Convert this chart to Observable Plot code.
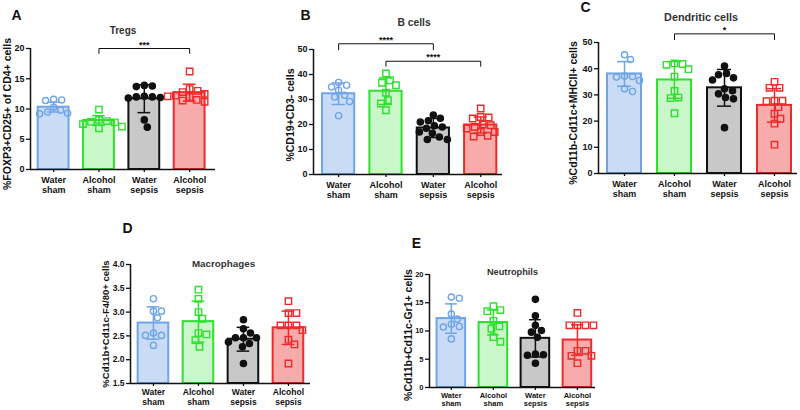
<!DOCTYPE html>
<html><head><meta charset="utf-8">
<script src="https://cdn.jsdelivr.net/npm/d3@7"></script>
<script src="https://cdn.jsdelivr.net/npm/@observablehq/plot@0.6"></script>
<style>
body{margin:0;background:#fff;}
#fig{position:relative;width:800px;height:410px;overflow:hidden;font-family:"Liberation Sans",Arial,sans-serif;}
#fig svg{position:absolute;max-width:none;}
</style></head><body><div id="fig"></div>
<script>
// ---------- data ----------
const groups = ["Water\nsham", "Alcohol\nsham", "Water\nsepsis", "Alcohol\nsepsis"];

const tregsMean = [10.3, 8.1, 11.7, 12.7];
const tregsSD = [0.8, 0.8, 2.3, 1.4];
const tregsPts = [
  [11.6, 11.4, 11.5, 10.3, 9.8, 9.5, 9.2, 9.3],
  [9.9, 8.2, 8.0, 7.9, 7.8, 7.5, 7.1, 6.8],
  [13.9, 13.7, 13.8, 12.0, 11.9, 12.0, 11.8, 12.1, 8.2, 7.0],
  [16.2, 13.3, 13.0, 12.8, 12.5, 12.2, 12.0, 12.1, 11.4, 11.2, 11.5]
];
const tregsTicks = [0, 5, 10, 15, 20];

const bMean = [32.3, 33.3, 18.6, 19.8];
const bSD = [4.3, 5.3, 3.8, 3.2];
const bPts = [
  [36.8, 35.7, 35.0, 33.7, 31.7, 31.0, 29.2, 23.5],
  [40.4, 37.7, 36.7, 35.7, 32.7, 29.7, 28.4, 25.7],
  [23.8, 22.5, 21.5, 21.0, 19.5, 19.0, 17.0, 16.5, 15.0, 14.0, 14.0, 18.5],
  [26.4, 23.0, 22.8, 22.4, 20.0, 19.7, 19.0, 18.4, 17.0, 17.0, 15.5, 15.2]
];
const bTicks = [0, 10, 20, 30, 40, 50];

const dcMean = [38.0, 35.7, 32.7, 26.0];
const dcSD = [4.7, 7.0, 7.0, 6.4];
const dcPts = [
  [45.3, 43.5, 37.0, 36.8, 37.2, 35.5, 32.3, 31.3],
  [42.0, 41.8, 41.5, 39.8, 37.0, 31.5, 29.0, 28.8, 23.0],
  [41.0, 38.2, 37.7, 36.5, 35.7, 32.3, 31.6, 30.4, 29.0, 28.5, 17.5],
  [35.0, 32.7, 32.7, 27.8, 27.8, 27.6, 25.3, 22.8, 20.9, 19.0, 11.0]
];
const dcTicks = [0, 10, 20, 30, 40, 50];

const macMean = [2.77, 2.80, 2.43, 2.67];
const macSD = [0.34, 0.43, 0.25, 0.35];
const macPts = [
  [3.28, 3.02, 3.02, 2.88, 2.51, 2.51, 2.56, 2.30],
  [3.47, 3.28, 3.00, 2.86, 2.56, 2.53, 2.41, 2.27],
  [2.84, 2.65, 2.56, 2.46, 2.46, 2.46, 2.37, 2.34, 2.27, 1.92],
  [3.23, 2.98, 2.98, 2.72, 2.72, 2.72, 2.62, 2.42, 2.32, 1.92]
];
const macTicks = [1.5, 2.0, 2.5, 3.0, 3.5, 4.0];

const neuMean = [12.2, 11.5, 8.7, 8.4];
const neuSD = [2.6, 2.2, 3.3, 2.7];
const neuPts = [
  [16.0, 15.8, 13.0, 12.1, 11.2, 10.8, 10.7, 8.6],
  [14.4, 13.7, 13.5, 11.8, 10.8, 10.4, 8.9, 8.1],
  [15.6, 12.7, 11.0, 10.1, 9.8, 8.9, 5.9, 5.7, 5.8, 4.3],
  [13.2, 11.0, 11.0, 11.0, 11.0, 6.5, 6.5, 5.6, 5.6, 4.3]
];
const neuTicks = [0, 5, 10, 15, 20];

// significance brackets: groups a-b, bar height, tip height, label
const tregsBrackets = [{a: 1, b: 3, y: 20, tip: 19.2, label: "***"}];
const bBrackets = [
  {a: 0, b: 2, y: 52.3, tip: 49.9, label: "****"},
  {a: 1, b: 3, y: 45.3, tip: 43.3, label: "****"}
];
const dcBrackets = [{a: 1, b: 3, y: 53.3, tip: 51.1, label: "*"}];

// ---------- styles ----------
const barFill = ["#c9dbf5", "#c9f7c9", "#c8c8c8", "#f7abab"];
const barStroke = ["#6fa5e6", "#2fe02f", "#111111", "#ee2a2a"];
const dotSymbol = ["circle", "square", "circle", "square"];
const dotFill = ["none", "none", "#111111", "none"];
const FONT = "'Liberation Sans', Arial, sans-serif";

const panels = [
  {letter: "A", title: "Tregs", ylabel: "%FOXP3+CD25+ of CD4+ cells", mean: tregsMean, sd: tregsSD, pts: tregsPts, ticks: tregsTicks, fmt: d3.format("d"), brackets: tregsBrackets,
   L: {left: 0, top: 0, width: 230, height: 200, ml: 30, mr: 15, mt: 48, mb: 31, xd: [-0.51, 3.57], letter: [-14, -33], title: [0, -18], ylab: [-23, 5], ls: 10.5, ts: 10, ks: 9, tp: 3}},
  {letter: "B", title: "B cells", ylabel: "%CD19+CD3- cells", mean: bMean, sd: bSD, pts: bPts, ticks: bTicks, fmt: d3.format("d"), brackets: bBrackets,
   L: {left: 265, top: 0, width: 245, height: 200, ml: 48, mr: 8, mt: 49, mb: 26, xd: [-0.53, 3.46], letter: [-8, -34], title: [6, -27], ylab: [-23, 3], ls: 10.5, ts: 10.3, ks: 9, tp: 3}},
  {letter: "C", title: "Dendritic cells", ylabel: "%Cd11b-Cd11c+MHCII+ cells", mean: dcMean, sd: dcSD, pts: dcPts, ticks: dcTicks, fmt: d3.format("d"), brackets: dcBrackets,
   L: {left: 530, top: 0, width: 270, height: 200, ml: 68, mr: 3, mt: 42, mb: 27, xd: [-0.52, 3.46], letter: [-13, -35], title: [3, -25], ylab: [-25, 5], ls: 10.5, ts: 10.8, ks: 9, tp: 3}},
  {letter: "D", title: "Macrophages", ylabel: "%Cd11b+Cd11c-F4/80+ cells", mean: macMean, sd: macSD, pts: macPts, ticks: macTicks, fmt: d3.format(".1f"), brackets: [],
   L: {left: 60, top: 200, width: 260, height: 210, ml: 70, mr: 10, mt: 64, mb: 27, xd: [-0.51, 3.49], letter: [-3, -36], title: [3, -1], ylab: [-25, 0], ls: 9.5, ts: 9.8, ks: 8.5, tp: 2}},
  {letter: "E", title: "Neutrophils", ylabel: "%Cd11b+Cd11c-Gr1+ cells", mean: neuMean, sd: neuSD, pts: neuPts, ticks: neuTicks, fmt: d3.format("d"), brackets: [],
   L: {left: 395, top: 200, width: 210, height: 210, ml: 34, mr: 10, mt: 74, mb: 23, xd: [-0.52, 3.43], letter: [-13, -31], title: [0, -2], ylab: [-21, 4], ls: 10.5, ts: 9.2, ks: 7.5, tp: 1}}
];

// simple beeswarm: horizontal pixel offsets so dots don't overlap
function swarm(vals, pxPerY, diam) {
  const order = vals.map((v, i) => ({v, i})).sort((a, b) => b.v - a.v);
  const placed = [];
  const out = new Array(vals.length).fill(0);
  for (const p of order) {
    const y = p.v * pxPerY;
    let off = 0;
    for (let k = 0; k < 200; k++) {
      const c = k === 0 ? 0 : (k % 2 ? 1 : -1) * Math.ceil(k / 2);
      if (placed.every(q => Math.hypot(q.x - c, q.y - y) >= diam)) { off = c; break; }
    }
    placed.push({x: off, y});
    out[p.i] = off;
  }
  return out;
}

const fig = document.getElementById("fig");
const BW = 0.34, CAP = 0.14;

for (const P of panels) {
  const L = P.L;
  const yd = [P.ticks[0], P.ticks[P.ticks.length - 1]];
  const pxY = (L.height - L.mt - L.mb) / (yd[1] - yd[0]);
  const pxX = (L.width - L.ml - L.mr) / (L.xd[1] - L.xd[0]);
  const bars = P.mean.map((m, g) => ({g, mean: m, sd: P.sd[g]}));
  const dots = [];
  P.pts.forEach((vals, g) => {
    const offs = swarm(vals, pxY, 7.6);
    vals.forEach((v, i) => dots.push({g, v, x: g + offs[i] / pxX}));
  });
  const brPts = [];
  P.brackets.forEach((b, k) => {
    brPts.push({k, x: b.a, y: b.tip}, {k, x: b.a, y: b.y}, {k, x: b.b, y: b.y}, {k, x: b.b, y: b.tip});
  });

  const dotMarks = [0, 1, 2, 3].map(g => Plot.dot(dots.filter(d => d.g === g), {
    x: "x", y: "v", symbol: dotSymbol[g], r: dotSymbol[g] === "square" ? 3.6 : 3.1,
    stroke: barStroke[g], fill: dotFill[g], strokeWidth: 1.4
  }));

  const chart = Plot.plot({
    width: L.width, height: L.height,
    marginLeft: L.ml, marginRight: L.mr, marginTop: L.mt, marginBottom: L.mb,
    x: {domain: L.xd, axis: null},
    y: {domain: yd, axis: null},
    color: {type: "identity"},
    style: {background: "transparent", overflow: "visible", fontFamily: FONT, color: "#111"},
    marks: [
      Plot.rectY(bars, {x1: d => d.g - BW, x2: d => d.g + BW, y1: () => yd[0], y2: "mean",
        fill: d => barFill[d.g], stroke: d => barStroke[d.g], strokeWidth: 2}),
      Plot.ruleX(bars, {x: "g", y1: d => d.mean - d.sd, y2: d => d.mean + d.sd, stroke: d => barStroke[d.g], strokeWidth: 1.5}),
      Plot.ruleY(bars, {y: d => d.mean + d.sd, x1: d => d.g - CAP, x2: d => d.g + CAP, stroke: d => barStroke[d.g], strokeWidth: 1.5}),
      Plot.ruleY(bars, {y: d => d.mean - d.sd, x1: d => d.g - CAP, x2: d => d.g + CAP, stroke: d => barStroke[d.g], strokeWidth: 1.5}),
      ...dotMarks,
      Plot.ruleX([L.xd[0]], {y1: yd[0], y2: yd[1], stroke: "#111", strokeWidth: 1.5}),
      Plot.ruleY([yd[0]], {x1: L.xd[0], x2: L.xd[1], stroke: "#111", strokeWidth: 1.5}),
      Plot.axisY({ticks: P.ticks, tickFormat: P.fmt, tickSize: 4, tickPadding: 2, fontSize: L.ks, fontWeight: "bold", label: null, strokeWidth: 1.3}),
      Plot.axisX({ticks: [0, 1, 2, 3], tickFormat: i => groups[i], tickSize: 3, tickPadding: L.tp, fontSize: L.ks, fontWeight: "bold", label: null, strokeWidth: 1.3, lineHeight: 1.15}),
      Plot.line(brPts, {x: "x", y: "y", z: "k", stroke: "#111", strokeWidth: 1}),
      Plot.text(P.brackets, {x: d => (d.a + d.b) / 2, y: "y", text: "label", lineAnchor: "bottom", dy: -1, fontSize: 9, fontWeight: "bold"}),
      Plot.text([P.letter], {frameAnchor: "top-left", dx: L.letter[0], dy: L.letter[1], fontSize: 14, fontWeight: "bold", textAnchor: "middle", lineAnchor: "middle"}),
      Plot.text([P.title], {frameAnchor: "top", dx: L.title[0], dy: L.title[1], fontSize: L.ts, fontWeight: "bold", fill: "#333", lineAnchor: "middle"}),
      Plot.text([P.ylabel], {frameAnchor: "left", dx: L.ylab[0], dy: L.ylab[1], rotate: -90, fontSize: L.ls, fontWeight: "bold", textAnchor: "middle", lineAnchor: "middle"})
    ]
  });
  chart.style.left = L.left + "px";
  chart.style.top = L.top + "px";
  fig.appendChild(chart);
}
</script></body></html>
